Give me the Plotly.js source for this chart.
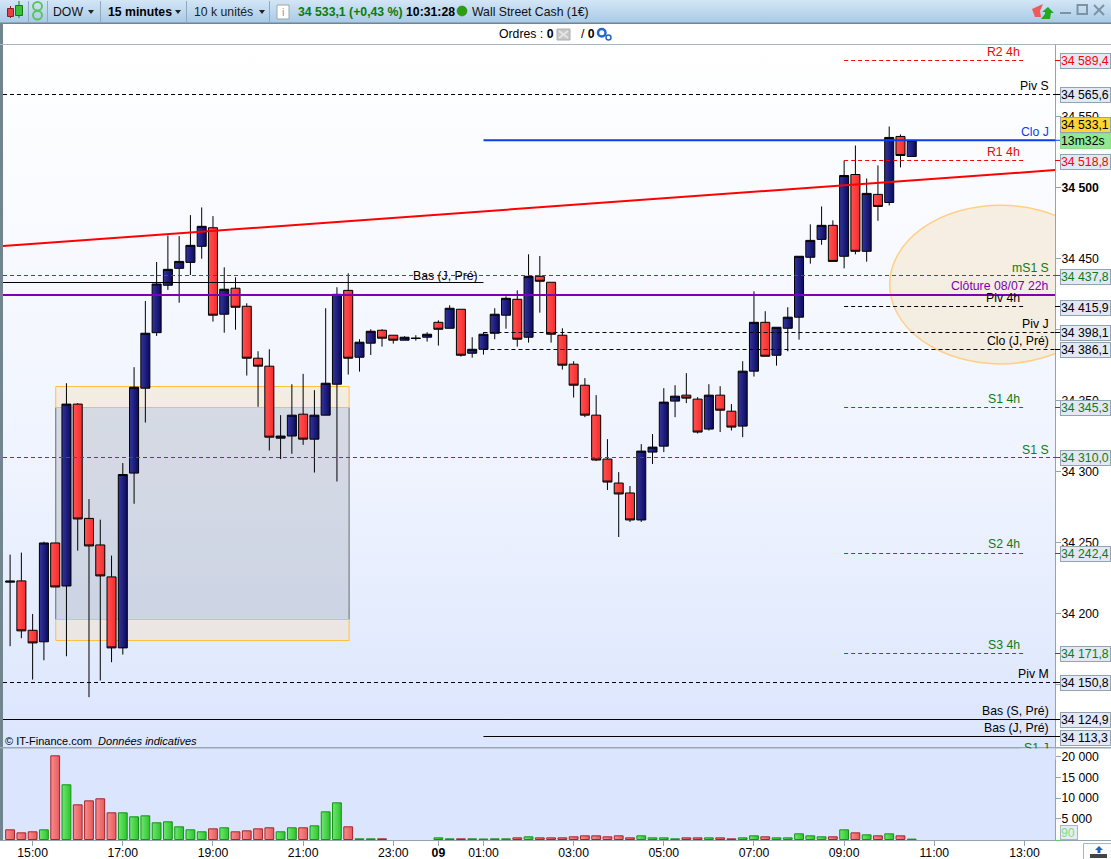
<!DOCTYPE html>
<html><head><meta charset="utf-8">
<script src="https://cdn.plot.ly/plotly-3.0.1.min.js"></script>
<style>
html,body{margin:0;padding:0;background:#fff;width:1111px;height:859px;overflow:hidden}
#bar{position:absolute;left:0;top:0;width:1111px;height:23px;background:linear-gradient(#d3e6f6,#a8c9e6)}
#pane{position:absolute;left:3px;top:45px;width:1052px;height:795px;background:linear-gradient(#ffffff 0%,#eef3fe 55%,#dbe5fd 89%,#dbe5fd 100%)}
#chart{position:absolute;left:0;top:0;width:1111px;height:859px}
</style></head><body>
<div id="bar"></div><div id="pane"></div><div id="chart"></div>
<script>
// 15-minute slots counted from 15:00 on 8 July
const opens=[34222.0,34222.9,34188.1,34180.0,34249.6,34219.3,34347.4,34266.9,34248.2,34225.7,34175.7,34298.8,34358.6,34397.7,34431.1,34443.0,34447.2,34458.5,34471.6,34410.7,34429.0,34416.3,34379.7,34374.1,34323.4,34324.9,34340.3,34322.7,34339.6,34361.4,34427.5,34380.4,34390.3,34399.4,34395.9,34392.4,34393.6,34394.5,34405.0,34400.8,34414.2,34383.2,34386.0,34397.3,34410.0,34421.2,34394.5,34437.4,34433.2,34395.9,34375.5,34360.7,34339.6,34308.7,34291.8,34284.8,34265.8,34313.6,34317.8,34349.5,34353.7,34350.9,34329.8,34353.7,34342.4,34331.9,34370.6,34405.0,34381.8,34400.8,34408.6,34450.8,34463.4,34473.3,34451.5,34509.1,34455.0,34495.1,34489.4,34535.9,34521.8];
const closes=[34222.7,34187.7,34179.2,34249.6,34218.6,34347.4,34266.5,34247.5,34226.4,34175.7,34297.8,34359.3,34397.3,34432.0,34442.3,34447.9,34459.2,34472.6,34410.0,34428.3,34415.6,34379.7,34374.1,34324.1,34324.9,34339.6,34322.7,34339.6,34362.1,34424.7,34379.7,34391.0,34398.7,34393.8,34392.4,34394.5,34393.8,34396.6,34400.1,34414.9,34381.8,34386.0,34396.6,34410.7,34421.9,34393.1,34437.4,34433.9,34396.6,34374.8,34360.7,34339.6,34308.0,34292.5,34284.1,34265.8,34314.3,34317.1,34348.8,34353.0,34351.6,34327.7,34353.7,34343.1,34331.2,34370.6,34405.0,34381.1,34401.5,34408.6,34451.5,34462.7,34473.3,34447.9,34508.4,34455.0,34495.8,34486.6,34535.2,34522.5,34533.1];
const highs=[34241.4,34242.8,34199.6,34250.5,34249.6,34362.1,34348.1,34280.5,34266.0,34240.7,34305.9,34373.4,34420.0,34447.5,34466.2,34465.7,34480.5,34485.9,34479.8,34443.7,34436.7,34418.4,34384.6,34386.0,34339.6,34361.4,34368.7,34357.2,34414.9,34429.7,34439.5,34393.1,34400.1,34400.1,34395.9,34395.2,34395.9,34398.0,34406.4,34417.0,34414.2,34394.5,34398.0,34414.9,34423.3,34427.5,34452.9,34451.7,34433.2,34400.8,34377.6,34365.7,34353.7,34322.7,34299.5,34289.7,34319.2,34326.3,34358.6,34360.7,34369.2,34352.3,34361.4,34360.0,34347.4,34377.6,34426.8,34412.8,34401.5,34415.6,34451.5,34474.0,34486.6,34476.8,34519.0,34529.5,34506.3,34515.5,34542.9,34537.3,34533.1];
const lows=[34176.9,34182.5,34153.4,34167.0,34218.6,34169.8,34244.2,34141.0,34152.7,34165.6,34171.0,34277.2,34334.4,34395.4,34427.8,34418.8,34438.3,34449.8,34405.5,34397.7,34399.8,34367.5,34345.5,34314.7,34308.7,34312.4,34318.7,34299.2,34339.6,34292.9,34368.2,34370.3,34382.0,34387.9,34390.0,34392.4,34392.1,34391.4,34388.6,34400.8,34380.8,34380.1,34382.3,34393.1,34400.5,34387.9,34390.7,34411.8,34390.7,34371.7,34352.0,34338.2,34307.3,34286.9,34253.8,34264.4,34264.4,34305.2,34313.6,34338.2,34348.1,34326.7,34328.8,34327.7,34328.8,34324.1,34366.8,34381.1,34374.5,34384.6,34392.8,34446.3,34459.6,34447.9,34443.0,34452.9,34447.7,34476.5,34487.3,34514.1,34521.8];
const volumes=[2340,1610,1860,2340,20260,13240,8390,9360,9850,6460,6460,5490,5730,4040,4280,3070,2340,1860,2580,2830,1860,2100,2580,2830,1860,2830,2830,3310,6700,8880,3070,160,160,160,null,null,null,null,400,160,160,160,120,160,160,400,650,400,400,400,650,890,890,650,890,400,890,400,400,160,400,400,400,400,160,400,890,650,400,400,1370,890,650,650,2340,1610,1130,890,1370,890,90];
const volumeRising=[0,0,0,1,0,1,0,0,0,0,1,1,1,1,1,1,1,1,0,1,0,0,0,0,1,1,0,1,1,1,0,1,1,0,1,1,1,1,1,1,0,1,1,1,1,0,1,0,0,0,0,0,0,0,0,0,1,1,1,1,0,0,1,0,0,1,1,0,1,1,1,1,1,0,1,0,1,0,1,0,1];
const firstSlot=-2;
const slots=opens.map((_,i)=>i+firstSlot);

const timeTickSlots=[0,8,16,24,32,36,40,48,56,64,72,80,88];
const timeTickLabels=['15:00','17:00','19:00','21:00','23:00','<b>09</b>','01:00','03:00','05:00','07:00','09:00','11:00','13:00'];
const priceTicks=[34550,34500,34450,34400,34350,34300,34250,34200,34150];
const priceTickLabels=['34 550','<b>34 500</b>','34 450','','34 350','34 300','34 250','34 200',''];
const volumeTicks=[5000,10000,15000,20000];
const volumeTickLabels=['5 000','10 000','15 000','20 000'];

// Levels: name, price, tag text
const fourHourNames=['R2 4h','R1 4h','Piv 4h','S1 4h','S2 4h','S3 4h'];
const fourHourPrices=[34589.4,34518.8,34415.9,34345.3,34242.4,34171.8];
const fourHourTags=['34 589,4','34 518,8','34 415,9','34 345,3','34 242,4','34 171,8'];
const fullNames=['Piv S','mS1 S','S1 S','Piv M'];
const fullPrices=[34565.6,34437.8,34310.0,34151.6];
const fullTags=['34 565,6','34 437,8','34 310,0','34 150,8'];
const dayNames=['Piv J','Clo (J, Pré)'];
const dayPrices=[34398.1,34386.1];
const dayTags=['34 398,1','34 386,1'];
const lowWeekPrice=34125.3, lowDayPrice=34113.3, lowPrevPrice=34432.7, closeDayPrice=34533.2, close22hPrice=34424.2;
const trendPrices=[34458.7,34512.2];
const zoneSlots=[2.05,28.08];
const zonePrices=[34360.0,34345.3,34195.4,34180.7];
const ellipseSlots=[76.04,95.7];
const ellipsePrices=[34375.7,34487.5];

const W=1111,H=859;
const X=p=>p/W, Y=p=>1-p/H;
const RED='#ff0000',GREEN='#117a11',BLACK='#000000',FONT='"Liberation Sans",Arial,sans-serif',FS=12.25;
const xRange=[-2.63,90.71];
const yRange=[34105.2,34600.3];
const k=703/(yRange[1]-yRange[0]);
// keep one-pixel lines on a single pixel row
const snap=p=>yRange[1]-(Math.floor(45+(yRange[1]-p)*k)+0.5-45)/k;
const shapes=[],annotations=[];

function px(type,x0,y0,x1,y1,o){shapes.push(Object.assign({type,xref:'paper',yref:'paper',x0:X(x0),x1:X(x1),y0:Y(y0),y1:Y(y1),line:{width:0}},o||{}));}
function pth(d,o){shapes.push(Object.assign({type:'path',xref:'paper',yref:'paper',path:d.replace(/(-?[\d.]+) (-?[\d.]+)/g,(m,a,b)=>X(+a)+' '+Y(+b)),line:{width:0}},o||{}));}
function seg(x0,y0,x1,y1,color,width){shapes.push({type:'line',xref:'paper',yref:'paper',x0:X(x0),x1:X(x1),y0:Y(y0),y1:Y(y1),line:{color,width}});}
function txt(text,x,y,anchor,color,size,extra){annotations.push(Object.assign({text,xref:'paper',yref:'paper',x:X(x),y:Y(y),xanchor:anchor||'left',yanchor:'middle',showarrow:false,font:{family:FONT,size:size||FS,color:color||'#000'},borderpad:0},extra||{}));}
function level(price,from,to,color,width,dash,tick,crisp){
  const y=crisp===false?price:snap(price);
  shapes.push({type:'line',xref:'x',yref:'y',x0:from,x1:to,y0:y,y1:y,line:{color,width,dash:dash?'4px,3px':'solid'}});
  if(tick)shapes.push({type:'line',xref:'paper',yref:'y',x0:X(1055),x1:X(1060),y0:y,y1:y,line:{color,width:1}});
}
function tag(text,price,color){annotations.push({text,xref:'paper',yref:'y',x:X(1059.5),y:price,yshift:-1,xanchor:'left',yanchor:'middle',showarrow:false,align:'left',width:49,height:14,borderpad:0,borderwidth:1,bordercolor:'#92a3b2',bgcolor:'#e2e8f6',font:{family:FONT,size:FS,color}});}

// Zones drawn behind the candles
const [zL,zR]=zoneSlots;
const zp=zonePrices.map(snap);
shapes.push({type:'rect',layer:'below',xref:'x',yref:'y',x0:zL,x1:zR,y0:zp[1],y1:zp[2],fillcolor:'rgba(150,155,170,0.3)',line:{color:'#6b6b6b',width:1}});
shapes.push({type:'rect',layer:'below',xref:'x',yref:'y',x0:zL,x1:zR,y0:zp[0],y1:zp[1],fillcolor:'rgba(245,225,190,0.42)',line:{color:'#ffc040',width:1}});
shapes.push({type:'rect',layer:'below',xref:'x',yref:'y',x0:zL,x1:zR,y0:zp[2],y1:zp[3],fillcolor:'rgba(245,225,190,0.42)',line:{color:'#ffc040',width:1}});
shapes.push({type:'circle',layer:'below',xref:'x',yref:'y',x0:ellipseSlots[0],x1:ellipseSlots[1],y0:ellipsePrices[0],y1:ellipsePrices[1],fillcolor:'rgba(245,225,190,0.45)',line:{color:'#ffcf86',width:1.5}});

// Levels
fourHourPrices.forEach((p,i)=>{const c=i<2?RED:(i==2?BLACK:GREEN);level(p,72,88,c,1,true,true);});
fullPrices.forEach((p,i)=>{const c=(i==0||i==3)?BLACK:GREEN;level(p,xRange[0],xRange[1],c,1,true,true);});
dayPrices.forEach(p=>level(p,40,xRange[1],BLACK,1,true,true));
level(lowWeekPrice,xRange[0],xRange[1],BLACK,1,false,true);
level(lowDayPrice,40,xRange[1],BLACK,1,false,true);
level(lowPrevPrice,xRange[0],40,BLACK,1,false,false);
level(closeDayPrice,40,xRange[1],'#0a3cf0',2,false,true,false);
level(close22hPrice,xRange[0],xRange[1],'#7d00b4',2,false,false,false);
shapes.push({type:'line',xref:'x',yref:'y',x0:xRange[0],x1:xRange[1],y0:trendPrices[0],y1:trendPrices[1],line:{color:'#ff0000',width:2}});

// Level labels
const fourHourLabelColor=['#ff0000','#ff0000','#000','#117a11','#117a11','#117a11'];
const fourHourLabelY=[52,152,298,399,544,645];
fourHourNames.forEach((n,i)=>txt(n,1021,fourHourLabelY[i],'right',fourHourLabelColor[i]));
const fullLabelY=[86,268,450,674];
fullNames.forEach((n,i)=>txt(n,1050,fullLabelY[i],'right',(i==0||i==3)?'#000':'#117a11'));
txt('Clo J',1050,132,'right','#0a3cf0');
txt('Clôture 08/07 22h',1050,286,'right','#7d00b4');
txt('Piv J',1050,324,'right','#000');
txt('Clo (J, Pré)',1050,341,'right','#000');
txt('Bas (S, Pré)',1050,711,'right','#000');
txt('Bas (J, Pré)',1050,728,'right','#000');
txt('Bas (J, Pré)',479,276,'right','#000');
txt('S1 J',1050,748,'right','#117a11');
// the lower pane cuts this label off
annotations.push({text:' ',xref:'paper',yref:'paper',x:X(1020),y:Y(748),xanchor:'left',yanchor:'top',showarrow:false,width:34,height:10,bgcolor:'#dbe5fd',borderpad:0});
annotations.push({text:'© IT-Finance.com&nbsp;&nbsp;<i>Données indicatives</i>',xref:'paper',yref:'paper',x:X(4),y:Y(741),xanchor:'left',yanchor:'middle',showarrow:false,font:{family:FONT,size:11,color:'#000'},borderpad:0});

// Price tags on the right
fourHourTags.forEach((t,i)=>tag(t,fourHourPrices[i],i<2?'#ff0000':(i==2?'#000':'#117a11')));
fullTags.forEach((t,i)=>tag(t,fullPrices[i],(i==0||i==3)?'#000':'#117a11'));
dayTags.forEach((t,i)=>tag(t,dayPrices[i],'#000'));
tag('34 124,9',lowWeekPrice,'#000');tag('34 113,3',lowDayPrice,'#000');
annotations.push({text:'34 533,1',xref:'paper',yref:'paper',x:X(1059.5),y:Y(124.5),xanchor:'left',yanchor:'middle',showarrow:false,align:'left',width:49,height:14,borderpad:0,borderwidth:1,bordercolor:'#92a3b2',bgcolor:'#ffd531',font:{family:FONT,size:FS,color:'#000'}});
annotations.push({text:'13m32s',xref:'paper',yref:'paper',x:X(1059.5),y:Y(140.5),xanchor:'left',yanchor:'middle',showarrow:false,align:'left',width:49,height:14,borderpad:0,borderwidth:1,bordercolor:'#8fdc8f',bgcolor:'#92e892',font:{family:FONT,size:FS,color:'#000'}});
annotations.push({text:'90',xref:'paper',yref:'paper',x:X(1059.5),y:Y(832.5),xanchor:'left',yanchor:'middle',showarrow:false,align:'left',width:16,height:13,borderpad:0,borderwidth:1,bordercolor:'#a9b6c2',bgcolor:'#e6ebf6',font:{family:FONT,size:FS,color:'#7ee07e'}});

// Window furniture
px('rect',0,23,3,840,{fillcolor:'#71858f'});
px('rect',0,22.5,1111,24,{fillcolor:'#6f8795'});
px('rect',0,44,1111,45,{fillcolor:'#a9b7c2'});
px('rect',0,747,1111,748.5,{fillcolor:'#9aa8b4'});
px('rect',0,840,1111,841,{fillcolor:'#93a3b0'});
px('rect',1055,840,1059,841,{fillcolor:'#55d955'});
[28,47,100,186,269].forEach(x=>px('rect',x,1,x+1,23,{fillcolor:'#8fa9bd'}));
// candle icon
seg(10.5,6,10.5,18,'#8a2020',1);
px('rect',7.5,8.5,13.5,16.5,{fillcolor:'#e84040',line:{color:'#8a2020',width:1}});
seg(19,1,19,18,'#157a15',1);
px('rect',15.5,5.5,22.5,15.5,{fillcolor:'#35c235',line:{color:'#157a15',width:1}});
// chain icon
px('circle',33,2,42,10.5,{line:{color:'#5cc45c',width:2}});
px('circle',33,11,42,19.5,{line:{color:'#5cc45c',width:2}});
// dropdown arrows
[91,178,262].forEach(x=>pth(`M ${x-3} 10 L ${x+3} 10 L ${x} 14 Z`,{fillcolor:'#222'}));
txt('DOW',52,12,'left','#111');
txt('<b>15 minutes</b>',107,12,'left','#000');
txt('10 k unités',193,12,'left','#222');
px('rect',277,5,289,19,{fillcolor:'#fff',line:{color:'#9aa',width:1}});
txt('i',283,12,'center','#8a9aa5',11);
txt('<b>34 533,1 (+0,43 %)</b>',297,12,'left','#0a7d0a');
txt('<b>10:31:28</b>',405,12,'left','#000');
px('circle',457,6,467,16,{fillcolor:'#2e9e10',line:{color:'#1f7a08',width:0.5}});
txt('Wall Street Cash (1€)',471,12,'left','#111');
// refresh arrows
pth('M 1043 4 L 1032 9 L 1035 17 L 1041 17 L 1040 11 Z',{fillcolor:'#ee5a5a'});
pth('M 1048 7 L 1054 13 L 1051 13 L 1050 19 L 1041 19 L 1045 14 L 1045 12 L 1042 12 Z',{fillcolor:'#22a822'});
px('rect',1060,12,1071,14,{fillcolor:'#7d93a3'});
px('rect',1077.5,5,1087,14,{line:{color:'#7d93a3',width:2}});
seg(1094,5,1104,15,'#7d93a3',2);
seg(1094,15,1104,5,'#7d93a3',2);
txt('Ordres : <b>0</b>',498,34,'left','#000');
px('rect',557,29,570,40,{fillcolor:'#c6c6c6',line:{color:'#b0b0b0',width:1}});
seg(559,31,568,38,'#e4e4e4',2);seg(559,38,568,31,'#e4e4e4',2);
txt('/ <b>0</b>',580,34,'left','#000');
px('circle',598,29,605.5,36.5,{fillcolor:'#fff',line:{color:'#2566c8',width:2.5}});
px('circle',606,35,611,40,{fillcolor:'#fff',line:{color:'#2566c8',width:1.5}});
// bottom right icon
px('rect',1083.5,843.5,1112,860,{fillcolor:'#fbfcfe',line:{color:'#a8b6c0',width:1}});
pth('M 1099 846 L 1103 850 L 1100.5 850 L 1100.5 853 L 1097.5 853 L 1097.5 850 L 1095 850 Z',{fillcolor:'#1f5fbf'});
px('rect',1090,854,1107,858,{fillcolor:'#444'});

const candle={type:'candlestick',x:slots,open:opens,high:highs,low:lows,close:closes,xaxis:'x',yaxis:'y',
  whiskerwidth:0,hoverinfo:'skip',
  increasing:{line:{color:'#000',width:1},fillcolor:'#15157a'},
  decreasing:{line:{color:'#000',width:1},fillcolor:'#ff4040'}};
const vol={type:'bar',x:slots,y:volumes,xaxis:'x',yaxis:'y2',hoverinfo:'skip',
  marker:{color:volumeRising.map(r=>r?'#55d955':'#f47878'),line:{color:volumeRising.map(r=>r?'#119411':'#a5232a'),width:1}}};
const axisLine='#93a3b0';
const layout={width:W,height:H,margin:{l:0,r:0,t:0,b:0,pad:0},paper_bgcolor:'rgba(0,0,0,0)',plot_bgcolor:'rgba(0,0,0,0)',showlegend:false,hovermode:false,dragmode:false,
  font:{family:FONT,size:12,color:'#000'},boxgap:0.2,boxgroupgap:0,bargap:0.22,
  xaxis:{domain:[X(3),X(1055)],range:xRange,anchor:'y2',showgrid:false,zeroline:false,rangeslider:{visible:false},
    tickmode:'array',tickvals:timeTickSlots,ticktext:timeTickLabels,ticks:'outside',ticklen:5,tickcolor:axisLine,showline:false,tickfont:{family:FONT,size:FS,color:'#000'},tickangle:0,ticklabelstandoff:-4},
  yaxis:{domain:[Y(748),Y(45)],range:yRange,anchor:'x',side:'right',showgrid:false,zeroline:false,
    tickmode:'array',tickvals:priceTicks,ticktext:priceTickLabels,ticks:'outside',ticklen:5,tickcolor:axisLine,showline:true,linecolor:axisLine,linewidth:1,tickfont:{family:FONT,size:FS,color:'#000'},ticklabelstandoff:-2},
  yaxis2:{domain:[Y(840),Y(748)],range:[-120,22150],anchor:'x',side:'right',showgrid:false,zeroline:false,
    tickmode:'array',tickvals:volumeTicks,ticktext:volumeTickLabels,ticks:'outside',ticklen:5,tickcolor:axisLine,showline:true,linecolor:axisLine,linewidth:1,tickfont:{family:FONT,size:FS,color:'#000'},ticklabelstandoff:-2},
  shapes,annotations};
Plotly.newPlot('chart',[candle,vol],layout,{displayModeBar:false,staticPlot:true}).then(gd=>{
  const svg=gd.querySelector('.main-svg');
  const NS='http://www.w3.org/2000/svg';
  const defs=svg.querySelector('defs');
  const grad=(id,a,b)=>{const g=document.createElementNS(NS,'linearGradient');g.id=id;
    [[0,a],[1,b]].forEach(([o,c])=>{const s=document.createElementNS(NS,'stop');s.setAttribute('offset',o);s.setAttribute('stop-color',c);g.appendChild(s);});defs.appendChild(g);};
  grad('gNavy','#34349e','#0b0b5e');grad('gRed','#ff5252','#f62c2c');grad('gVG','#6fe86f','#2fc22f');grad('gVR','#f78d8d','#e85a5a');
  svg.querySelectorAll('.boxlayer path').forEach(p=>{const c=p.style.fill;if(c)p.style.fill=c.indexOf('255, 64')>=0?'url(#gRed)':'url(#gNavy)';});
  svg.querySelectorAll('.barlayer .point path').forEach(p=>{const c=p.style.fill;p.style.fill=(c.indexOf('85, 217')>=0)?'url(#gVG)':'url(#gVR)';});
});
</script></body></html>
